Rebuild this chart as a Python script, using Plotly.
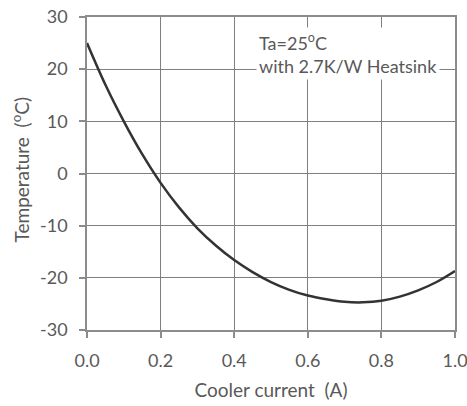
import plotly.graph_objects as go

current = [0, 0.05, 0.1, 0.15, 0.2, 0.25, 0.3, 0.35, 0.4, 0.45, 0.5, 0.55, 0.6,
           0.65, 0.7, 0.75, 0.8, 0.85, 0.9, 0.95, 1.0]
temperature = [25, 17.0, 10, 3.7, -1.8, -6.5, -10.5, -13.8, -16.6, -18.9, -20.8,
               -22.3, -23.4, -24.1, -24.6, -24.7, -24.4, -23.6, -22.4, -20.8, -18.7]
x_ticks = [0, 0.2, 0.4, 0.6, 0.8, 1.0]
x_tick_labels = ["0.0", "0.2", "0.4", "0.6", "0.8", "1.0"]
y_ticks = [-30, -20, -10, 0, 10, 20, 30]
y_tick_labels = ["-30", "-20", "-10", "0", "10", "20", "30"]

FONT = "Lato"
GREY = "#595959"

fig = go.Figure()
fig.add_trace(go.Scatter(x=current, y=temperature, mode="lines",
                         line=dict(color="#333333", width=2.5, shape="spline"),
                         hoverinfo="skip", showlegend=False))

axis_common = dict(showgrid=True, gridcolor="#7f7f7f", gridwidth=1, automargin=False,
                   showline=True, linecolor="#8c8c8c", linewidth=1.5, mirror=True,
                   ticks="outside", ticklen=6, tickcolor="#8c8c8c", tickwidth=1.5,
                   ticklabeloverflow="allow",
                   zeroline=False, tickfont=dict(family=FONT, size=18, color=GREY))

fig.update_xaxes(range=[0, 1.0], tickvals=x_ticks, ticktext=x_tick_labels, ticklabelstandoff=8,
                 title=dict(text="Cooler current  (A)", font=dict(family=FONT, size=19, color=GREY), standoff=13),
                 **axis_common)
fig.update_yaxes(range=[-30, 30], tickvals=y_ticks, ticktext=y_tick_labels, ticklabelstandoff=8,
                 **axis_common)

# y-axis title placed as a rotated annotation for exact positioning
fig.add_annotation(x=-0.182, y=0.51, xref="paper", yref="paper", xanchor="center", yanchor="middle",
                   text="Temperature  (<sup>o</sup>C)", textangle=-90, showarrow=False,
                   font=dict(family=FONT, size=19, color=GREY))

fig.add_annotation(x=0.46, y=28.0, xref="x", yref="y", xanchor="left", yanchor="top",
                   text="Ta=25<sup>o</sup>C<br>with 2.7K/W Heatsink", showarrow=False, align="left",
                   bgcolor="white", borderpad=2, font=dict(family=FONT, size=18, color=GREY))

fig.update_layout(width=467, height=406, margin=dict(l=87, r=12, t=17, b=76),
                  plot_bgcolor="white", paper_bgcolor="white")

fig.write_html("out.html", config={"displayModeBar": False},
               post_script="document.body.style.margin='0';document.body.style.overflow='hidden';")
